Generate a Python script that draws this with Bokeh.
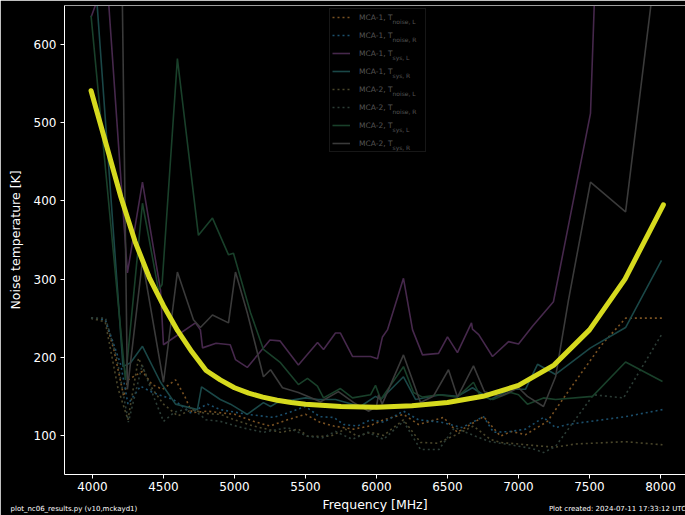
from bokeh.plotting import figure
from bokeh.models import Range1d, Legend, LegendItem, Label, Span, FixedTicker, Title
from bokeh.embed import file_html
from bokeh.resources import INLINE

# ---------------- data ----------------
# MCA-1 Tnoise,L
f_m1_nl = [3990, 4090, 4150, 4220, 4250, 4352, 4420, 4493, 4585, 4650, 4700, 4810, 4900, 5000, 5134, 5250,
           5373, 5500, 5600, 5700, 5838, 5950, 6050, 6190, 6296, 6472, 6570, 6754, 6873, 6950, 7050, 7204,
           7345, 7577, 7754, 8014]
v_m1_nl = [250, 248, 210, 150, 171, 182, 165, 159, 171, 150, 129, 131, 129, 127, 118, 112,
           120, 127, 117, 112, 108, 112, 120, 127, 114, 123, 104, 124, 99, 105, 101, 118,
           155, 214, 250, 250]
# MCA-1 Tnoise,R
f_m1_nr = [3990, 4090, 4200, 4250, 4338, 4423, 4500, 4570, 4690, 4810, 4900, 5090, 5275, 5380, 5500, 5600,
           5700, 5768, 5866, 5958, 6050, 6190, 6296, 6450, 6600, 6754, 6824, 6944, 7049, 7176, 7261, 7345,
           7754, 8014]
v_m1_nr = [250, 248, 190, 140, 163, 155, 150, 146, 129, 140, 133, 127, 123, 129, 137, 124,
           123, 114, 112, 120, 117, 131, 120, 117, 110, 124, 104, 105, 108, 123, 110, 114,
           124, 133]
# MCA-1 Tsys,L
f_m1_sl = [3990, 4100, 4246, 4352, 4479, 4500, 4725, 4760, 4775, 4870, 4970, 5007, 5090, 5250, 5320, 5450,
           5585, 5627, 5711, 5746, 5831, 5958, 6007, 6042, 6077, 6190, 6254, 6324, 6437, 6500, 6570, 6669,
           6676, 6720, 6817, 6930, 7000, 7100, 7246, 7507, 7600]
v_m1_sl = [635, 690, 308, 424, 286, 216, 244, 235, 212, 218, 216, 197, 187, 222, 221, 190,
           219, 210, 231, 231, 201, 201, 198, 226, 235, 301, 235, 203, 205, 226, 206, 244,
           236, 229, 201, 220, 217, 240, 271, 512, 1000]
# MCA-1 Tsys,R
f_m1_sr = [3990, 4215, 4268, 4352, 4479, 4585, 4739, 4768, 4900, 4972, 5090, 5204, 5254, 5300, 5500, 5590,
           5711, 5887, 5993, 6030, 6190, 6275, 6450, 6570, 6676, 6803, 6944, 7049, 7134, 7261, 7507, 7754,
           8007]
v_m1_sr = [760, 188, 193, 214, 168, 140, 133, 162, 146, 140, 127, 142, 137, 142, 148, 146,
           146, 137, 150, 146, 175, 146, 152, 150, 161, 146, 159, 159, 191, 178, 212, 238,
           324]
# MCA-2 Tnoise,L
f_m2_nl = [3990, 4090, 4180, 4250, 4324, 4420, 4500, 4600, 4700, 4800, 4900, 5000, 5134, 5324, 5450, 5514,
           5676, 5780, 5866, 5958, 6050, 6190, 6310, 6430, 6550, 6683, 6800, 6873, 7000, 7176, 7261, 7400,
           7754, 8014]
v_m2_nl = [250, 245, 160, 120, 199, 160, 140, 125, 133, 128, 127, 120, 112, 104, 108, 99,
           99, 108, 99, 104, 100, 120, 91, 90, 100, 112, 95, 91, 89, 86, 85, 89,
           92, 88]
# MCA-2 Tnoise,R
f_m2_nr = [3990, 4092, 4170, 4253, 4350, 4430, 4500, 4580, 4700, 4800, 4900, 5050, 5204, 5373, 5514, 5620,
           5711, 5830, 5940, 6050, 6190, 6310, 6440, 6550, 6683, 6800, 6944, 7100, 7176, 7261, 7528, 7740,
           8014]
v_m2_nr = [250, 250, 200, 117, 190, 150, 118, 130, 135, 120, 118, 110, 104, 110, 99, 97,
           105, 95, 104, 95, 118, 82, 82, 110, 100, 92, 88, 83, 78, 86, 152, 148,
           231]
# MCA-2 Tsys,L
f_m2_sl = [3990, 4232, 4352, 4465, 4490, 4598, 4746, 4845, 4958, 4993, 5113, 5204, 5324, 5450, 5514, 5584,
           5627, 5746, 5831, 5958, 5993, 6030, 6190, 6261, 6324, 6437, 6570, 6683, 6732, 6820, 6944, 7000,
           7063, 7176, 7261, 7521, 7754, 8014]
v_m2_sl = [637, 171, 397, 286, 293, 582, 356, 378, 331, 333, 257, 210, 193, 165, 173, 163,
           148, 160, 148, 152, 164, 146, 188, 155, 149, 152, 149, 168, 150, 146, 155, 152,
           140, 148, 146, 150, 194, 169]
# MCA-2 Tsys,R
f_m2_sr = [3990, 4200, 4246, 4352, 4500, 4598, 4711, 4760, 4845, 4958, 5007, 5090, 5204, 5254, 5338, 5450,
           5606, 5732, 5840, 5943, 6000, 6014, 6040, 6190, 6310, 6400, 6507, 6570, 6683, 6760, 6873, 7000,
           7063, 7176, 7261, 7352, 7507, 7754, 7930, 8014]
v_m2_sr = [900, 800, 159, 324, 168, 309, 248, 238, 254, 244, 309, 257, 175, 184, 161, 155,
           143, 156, 142, 131, 137, 152, 140, 203, 142, 150, 184, 149, 189, 156, 150, 161,
           150, 137, 175, 273, 424, 386, 647, 800]
# fit
f_fit = [3990, 4100, 4200, 4300, 4400, 4500, 4600, 4700, 4800, 4900, 5000, 5100, 5200, 5300, 5400, 5500,
         5750, 6000, 6250, 6500, 6750, 7000, 7250, 7500, 7750, 8020]
v_fit = [541, 470, 405, 348, 302, 266, 234, 207, 183, 171, 161, 154, 149, 145, 142, 140,
         137, 136, 138, 142, 150, 164, 190, 235, 300, 395]

labels_main = ["MCA-1, T", "MCA-1, T", "MCA-1, T", "MCA-1, T", "MCA-2, T", "MCA-2, T", "MCA-2, T", "MCA-2, T"]
labels_sub = ["noise, L", "noise, R", "sys, L", "sys, R", "noise, L", "noise, R", "sys, L", "sys, R"]
x_ticks = [4000, 4500, 5000, 5500, 6000, 6500, 7000, 7500, 8000]
y_ticks = [100, 200, 300, 400, 500, 600]
foot_left = "plot_nc06_results.py (v10,mckayd1)"
foot_right = "Plot created: 2024-07-11 17:33:12 UTC"

series = [
    (f_m1_nl, v_m1_nl, "#7a5222", True),
    (f_m1_nr, v_m1_nr, "#1b4f6c", True),
    (f_m1_sl, v_m1_sl, "#46284c", False),
    (f_m1_sr, v_m1_sr, "#1a4747", False),
    (f_m2_nl, v_m2_nl, "#4a462a", True),
    (f_m2_nr, v_m2_nr, "#2c3d36", True),
    (f_m2_sl, v_m2_sl, "#19402a", False),
    (f_m2_sr, v_m2_sr, "#3a3a3a", False),
]

FONT = "DejaVu Sans"
X0, X1, Y0, Y1 = 3803, 8176, 50, 650

p = figure(width=685, height=515, output_backend="svg", toolbar_location=None,
           x_range=Range1d(X0, X1), y_range=Range1d(Y0, Y1),
           min_border_left=64, min_border_right=0, min_border_top=5, min_border_bottom=41,
           background_fill_color="black", border_fill_color="black")
p.outline_line_color = None
p.grid.visible = False

items = []
for i, (fx, vy, col, dotted) in enumerate(series):
    kw = dict(line_color=col, line_width=1.6)
    if dotted:
        kw["line_dash"] = "2 3"
    r = p.line(fx, vy, **kw)
    items.append(LegendItem(label=labels_main[i], renderers=[r]))

p.line(f_fit, v_fit, line_color="#d6da1e", line_width=5, line_cap="round", line_join="round")

for ax in (p.xaxis[0], p.yaxis[0]):
    ax.axis_line_color = "white"
    ax.major_tick_line_color = "white"
    ax.minor_tick_line_color = None
    ax.major_tick_out = 4
    ax.major_tick_in = 0
    ax.major_label_text_color = "white"
    ax.major_label_text_font = FONT
    ax.major_label_text_font_size = "12px"
    ax.axis_label_text_color = "white"
    ax.axis_label_text_font = FONT
    ax.axis_label_text_font_size = "12.5px"
    ax.axis_label_text_font_style = "normal"
p.xaxis[0].ticker = FixedTicker(ticks=x_ticks)
p.yaxis[0].ticker = FixedTicker(ticks=y_ticks)
p.xaxis[0].axis_label = "Frequency [MHz]"
p.yaxis[0].axis_label = "Noise temperature [K]"
p.xaxis[0].major_label_standoff = 3
p.xaxis[0].axis_label_standoff = 3
p.yaxis[0].major_label_standoff = 4
p.yaxis[0].axis_label_standoff = 8

p.add_layout(Span(location=Y1, dimension="width", line_color="white", line_width=1.2))

legend = Legend(items=items, location=(265, 322), padding=2, spacing=6,
                label_height=12, glyph_height=12, glyph_width=18, label_standoff=9,
                label_width=64, label_text_font=FONT, label_text_font_size="7.5px",
                label_text_color="#555555", background_fill_alpha=0,
                border_line_color="#2e2e2e", border_line_width=1, margin=0)
p.add_layout(legend, "center")

# subscripts of legend labels (screen units relative to the frame)
for i, sub in enumerate(labels_sub):
    ypx = 18 + 18 * i + 2.5
    p.add_layout(Label(x=392 - 64, y=469 - (ypx - 5), x_units="screen", y_units="screen", text=sub,
                       text_font=FONT, text_font_size="6px", text_color="#555555",
                       text_baseline="middle", text_align="left"))

# footnotes in one row below the x axis, pulled up next to the axis label
gap = "\u00a0" * 185
p.add_layout(Title(text=foot_left + gap + foot_right, align="left", offset=-54, standoff=-20,
                   vertical_align="top",
                   text_font=FONT, text_font_size="7px", text_font_style="normal",
                   text_color="white"), "below")

open("out.html", "w").write(file_html(p, INLINE))
